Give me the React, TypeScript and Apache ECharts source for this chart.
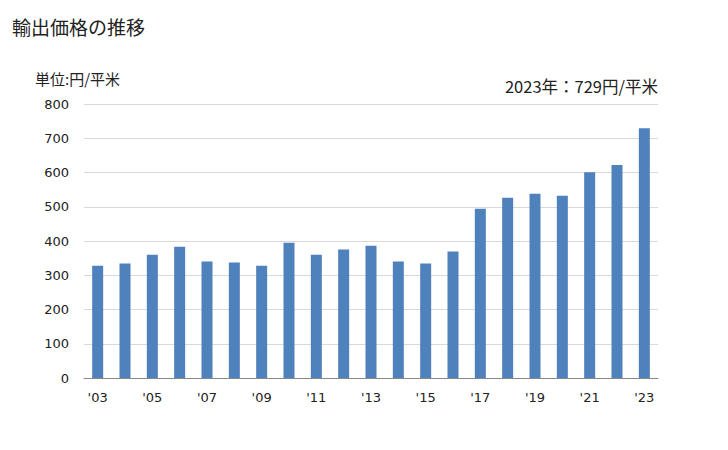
import React, { useEffect, useRef } from "react";
import * as echarts from "echarts";

const years = ["'03", "'04", "'05", "'06", "'07", "'08", "'09", "'10", "'11", "'12", "'13", "'14", "'15", "'16", "'17", "'18", "'19", "'20", "'21", "'22", "'23"];
const prices = [328, 334, 360, 383, 340, 337, 328, 395, 360, 375, 386, 340, 334, 369, 494, 526, 538, 532, 601, 622, 729];
const title = "輸出価格の推移";
const unitLabel = "単位:円/平米";
const latestLabel = "2023年：729円/平米";

const FONT = "'DejaVu Sans', 'Noto Sans CJK JP', sans-serif";
const JP = "'Noto Sans CJK JP', sans-serif";

export default function App() {
  const ref = useRef<HTMLDivElement>(null);
  useEffect(() => {
    if (!ref.current) return;
    const chart = echarts.init(ref.current, null, { renderer: "svg" });
    chart.setOption({
      animation: false,
      backgroundColor: "#ffffff",
      textStyle: { fontFamily: FONT },
      title: [
        {
          text: title,
          left: 7,
          top: 12,
          textStyle: { fontSize: 19, fontWeight: "normal", color: "#222", fontFamily: JP },
        },
        {
          text: unitLabel,
          left: 30,
          top: 66,
          textStyle: { fontSize: 15, fontWeight: "normal", color: "#222", fontFamily: JP },
        },
        {
          text: latestLabel,
          right: 65,
          top: 73,
          textStyle: { fontSize: 16.5, fontWeight: "normal", color: "#222", fontFamily: JP },
        },
      ],
      grid: { left: 84, right: 70, top: 104, bottom: 72, containLabel: false },
      xAxis: {
        type: "category",
        data: years,
        axisTick: { show: false },
        axisLine: { lineStyle: { color: "#888", width: 1 } },
        axisLabel: { interval: 1, color: "#222", fontSize: 13, margin: 13, fontFamily: FONT },
      },
      yAxis: {
        type: "value",
        min: 0,
        max: 800,
        interval: 100,
        axisLine: { show: false },
        axisTick: { show: false },
        axisLabel: { color: "#222", fontSize: 13, margin: 15, fontFamily: FONT },
        splitLine: { lineStyle: { color: "#d9d9d9", width: 1 } },
      },
      series: [
        {
          type: "bar",
          data: prices,
          barWidth: 11,
          itemStyle: { color: "#4f81bd" },
        },
      ],
    });
    return () => chart.dispose();
  }, []);
  return <div ref={ref} style={{ width: 728, height: 450, position: "absolute", left: 0, top: 0 }} />;
}
